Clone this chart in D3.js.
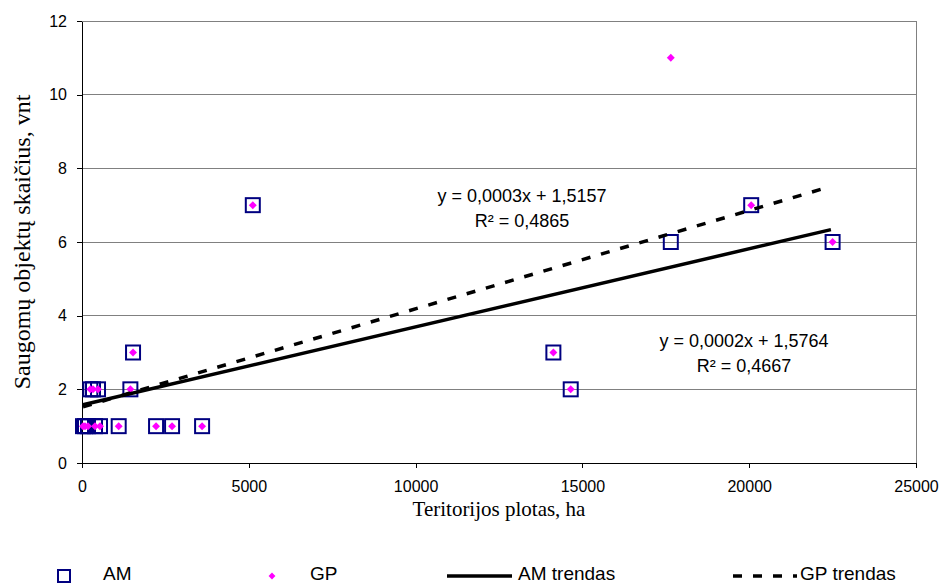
<!DOCTYPE html>
<html>
<head>
<meta charset="utf-8">
<script src="https://cdn.jsdelivr.net/npm/d3@7/dist/d3.min.js"></script>
<style>
  body { margin: 0; background: #fff; }
  svg { display: block; }
</style>
</head>
<body>
<div id="chart"></div>
<script>
// territory area (ha) and number of protected objects
const amX = [30, 90, 180, 390, 540, 1100, 2220, 2700, 3600, 250, 330, 480, 1450, 14650, 1530, 14130, 5120, 20060, 17650, 22500];
const amY = [1, 1, 1, 1, 1, 1, 1, 1, 1, 2, 2, 2, 2, 2, 3, 3, 7, 7, 6, 6];
const gpX = [30, 90, 180, 390, 540, 1100, 2220, 2700, 3600, 250, 330, 480, 1450, 14650, 1530, 14130, 5120, 20060, 17650, 22500];
const gpY = [1, 1, 1, 1, 1, 1, 1, 1, 1, 2, 2, 2, 2, 2, 3, 3, 7, 7, 11, 6];

// trend lines [slope, intercept] as drawn
const amTrend = [0.000212, 1.5764];
const gpTrend = [0.000267, 1.5157];
const trendRange = [30, 22450];

const amLabel = ["y = 0,0002x + 1,5764", "R² = 0,4667"];
const gpLabel = ["y = 0,0003x + 1,5157", "R² = 0,4865"];

const xTicks = [0, 5000, 10000, 15000, 20000, 25000];
const yTicks = [0, 2, 4, 6, 8, 10, 12];
const legendNames = ["AM", "GP", "AM trendas", "GP trendas"];

const width = 944, height = 585;
const margin = { top: 21, right: 28, bottom: 122, left: 82 };

const svg = d3.select("#chart").append("svg").attr("width", width).attr("height", height);

const x = d3.scaleLinear().domain([0, 25000]).range([margin.left, width - margin.right]);
const y = d3.scaleLinear().domain([0, 12]).range([height - margin.bottom, margin.top]);

// grid
svg.append("g").selectAll("line").data(yTicks.filter((d) => d > 0)).join("line")
  .attr("x1", x(0)).attr("x2", x(25000)).attr("y1", (d) => y(d)).attr("y2", (d) => y(d))
  .attr("stroke", "#808080").attr("stroke-width", 1).attr("shape-rendering", "crispEdges");
svg.append("line").attr("x1", x(25000)).attr("x2", x(25000)).attr("y1", y(12)).attr("y2", y(0))
  .attr("stroke", "#808080").attr("shape-rendering", "crispEdges");

// axes
svg.append("g").attr("transform", `translate(0,${y(0)})`)
  .call(d3.axisBottom(x).tickValues(xTicks).tickFormat(d3.format("d")).tickSize(5).tickPadding(13).tickSizeOuter(0));
svg.append("g").attr("transform", `translate(${x(0)},0)`)
  .call(d3.axisLeft(y).tickValues(yTicks).tickFormat(d3.format("d")).tickSize(5).tickPadding(10).tickSizeOuter(0));
svg.selectAll(".tick text").attr("font-family", "Liberation Sans, Arial, sans-serif").attr("font-size", 16).attr("fill", "#000");
svg.selectAll(".domain,.tick line").attr("stroke", "#000").attr("shape-rendering", "crispEdges");

// series
const am = amX.map((d, i) => ({ x: d, y: amY[i] }));
const gp = gpX.map((d, i) => ({ x: d, y: gpY[i] }));
svg.append("g").selectAll("rect").data(am).join("rect")
  .attr("x", (d) => x(d.x) - 7).attr("y", (d) => y(d.y) - 7).attr("width", 14).attr("height", 14)
  .attr("fill", "none").attr("stroke", "#000080").attr("stroke-width", 2);
const diamond = d3.symbol().type(d3.symbolDiamond2).size(40);
svg.append("g").selectAll("path").data(gp).join("path")
  .attr("transform", (d) => `translate(${x(d.x)},${y(d.y)})`).attr("d", diamond).attr("fill", "#ff00ff");

// trend lines
const trendLine = (t) => d3.line().x((d) => x(d)).y((d) => y(t[0] * d + t[1]))(trendRange);
svg.append("path").attr("d", trendLine(amTrend)).attr("fill", "none").attr("stroke", "#000").attr("stroke-width", 3.5);
svg.append("path").attr("d", trendLine(gpTrend)).attr("fill", "none").attr("stroke", "#000").attr("stroke-width", 3.5)
  .attr("stroke-dasharray", "9 11");

// equations
const eq = svg.append("g").attr("font-family", "Liberation Sans, Arial, sans-serif").attr("font-size", 18)
  .attr("text-anchor", "middle").attr("fill", "#000");
eq.append("text").attr("x", 522).attr("y", 202).text(gpLabel[0]);
eq.append("text").attr("x", 522).attr("y", 227).text(gpLabel[1]);
eq.append("text").attr("x", 744).attr("y", 347).text(amLabel[0]);
eq.append("text").attr("x", 744).attr("y", 372).text(amLabel[1]);

// axis titles
svg.append("text").attr("x", x(12500)).attr("y", 516).attr("text-anchor", "middle")
  .attr("font-family", "Liberation Serif, Times New Roman, serif").attr("font-size", 21).text("Teritorijos plotas, ha");
svg.append("text").attr("transform", `translate(30,${y(6)}) rotate(-90)`).attr("text-anchor", "middle")
  .attr("font-family", "Liberation Serif, Times New Roman, serif").attr("font-size", 24).text("Saugomų objektų skaičius, vnt");

// legend
const legend = svg.append("g").attr("font-family", "Liberation Sans, Arial, sans-serif").attr("font-size", 19).attr("fill", "#000");
const ly = 576;
legend.append("rect").attr("x", 58).attr("y", ly - 6).attr("width", 12).attr("height", 12)
  .attr("fill", "none").attr("stroke", "#000080").attr("stroke-width", 2);
legend.append("path").attr("transform", `translate(272,${ly})`).attr("d", d3.symbol().type(d3.symbolDiamond2).size(30)).attr("fill", "#ff00ff");
legend.append("line").attr("x1", 447).attr("x2", 512).attr("y1", ly).attr("y2", ly).attr("stroke", "#000").attr("stroke-width", 3.5);
legend.append("line").attr("x1", 733).attr("x2", 797).attr("y1", ly).attr("y2", ly).attr("stroke", "#000").attr("stroke-width", 3.5)
  .attr("stroke-dasharray", "9 11");
[103, 310, 518, 800].forEach((lx, i) => {
  legend.append("text").attr("x", lx).attr("y", 580).text(legendNames[i]);
});
</script>
</body>
</html>
